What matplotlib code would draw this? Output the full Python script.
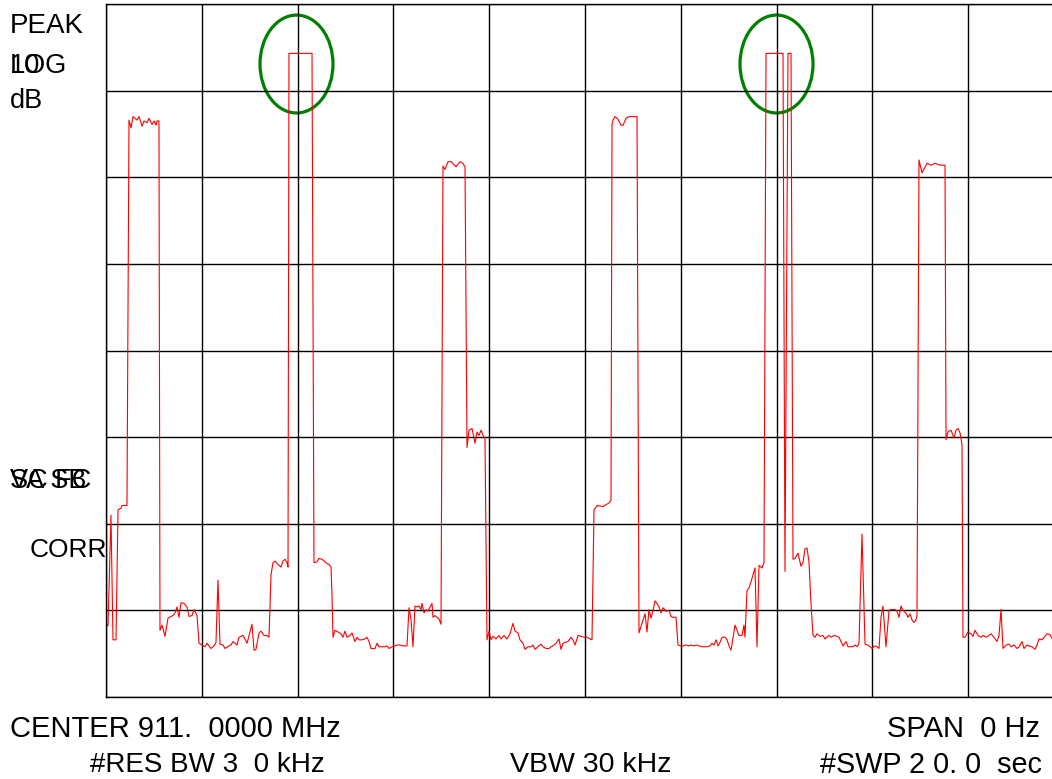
import numpy as np
import matplotlib
matplotlib.use("Agg")
import matplotlib.pyplot as plt
from matplotlib.patches import Ellipse

plt.rcParams['font.family'] = ['Liberation Sans', 'DejaVu Sans']

# zero-span sweep, 20 s across 10 divisions, 10 dB/div, 8 divisions
sweep_time = [
    0.000, 0.042, 0.104, 0.146, 0.209, 0.251, 0.313, 0.334, 0.438, 0.480,
    0.522, 0.564, 0.647, 0.689, 0.752, 0.793, 0.856, 0.898, 0.960, 1.002,
    1.044, 1.065, 1.106, 1.127, 1.169, 1.190, 1.232, 1.294, 1.357, 1.399,
    1.441, 1.482, 1.524, 1.566, 1.628, 1.691, 1.733, 1.795, 1.837, 1.900,
    1.942, 2.004, 2.067, 2.109, 2.150, 2.192, 2.255, 2.296, 2.338, 2.380,
    2.443, 2.484, 2.568, 2.610, 2.651, 2.735, 2.777, 2.860, 2.902, 2.944,
    3.006, 3.048, 3.090, 3.132, 3.194, 3.236, 3.299, 3.361, 3.403, 3.445,
    3.486, 3.528, 3.591, 3.653, 3.695, 3.737, 3.779, 3.800, 3.820, 4.301,
    4.342, 4.405, 4.447, 4.509, 4.551, 4.593, 4.656, 4.697, 4.718, 4.739,
    4.781, 4.843, 4.906, 4.948, 4.990, 5.031, 5.094, 5.136, 5.198, 5.240,
    5.282, 5.344, 5.407, 5.449, 5.491, 5.532, 5.616, 5.658, 5.699, 5.762,
    5.825, 5.866, 5.908, 5.971, 6.033, 6.075, 6.138, 6.200, 6.284, 6.326,
    6.367, 6.409, 6.451, 6.493, 6.534, 6.576, 6.597, 6.639, 6.681, 6.722,
    6.764, 6.806, 6.827, 6.868, 6.910, 6.952, 6.994, 7.035, 7.077, 7.140,
    7.203, 7.307, 7.390, 7.453, 7.495, 7.537, 7.578, 7.641, 7.704, 7.745,
    7.787, 7.829, 7.871, 7.912, 7.954, 7.996, 8.038, 8.079, 8.142, 8.205,
    8.246, 8.309, 8.372, 8.434, 8.497, 8.539, 8.601, 8.643, 8.706, 8.747,
    8.810, 8.873, 8.914, 8.956, 9.019, 9.081, 9.123, 9.186, 9.248, 9.290,
    9.353, 9.395, 9.457, 9.499, 9.541, 9.582, 9.645, 9.708, 9.749, 9.791,
    9.854, 9.916, 9.979, 10.042, 10.104, 10.146, 10.188, 10.251, 10.376, 10.501,
    10.543, 10.564, 10.585, 10.626, 10.689, 10.752, 10.793, 10.856, 10.919, 11.023,
    11.086, 11.127, 11.190, 11.253, 11.294, 11.336, 11.378, 11.420, 11.461, 11.503,
    11.545, 11.587, 11.628, 11.691, 11.754, 11.795, 11.837, 11.900, 11.942, 12.004,
    12.046, 12.109, 12.171, 12.213, 12.276, 12.338, 12.380, 12.443, 12.505, 12.547,
    12.610, 12.651, 12.693, 12.735, 12.777, 12.818, 12.860, 12.923, 12.965, 13.006,
    13.048, 13.090, 13.132, 13.173, 13.215, 13.278, 13.319, 13.340, 13.382, 13.424,
    13.466, 13.507, 13.549, 13.591, 13.633, 13.695, 13.737, 13.779, 14.134, 14.175,
    14.238, 14.301, 14.342, 14.384, 14.447, 14.509, 14.551, 14.593, 14.635, 14.676,
    14.718, 14.760, 14.802, 14.843, 14.906, 14.969, 15.010, 15.052, 15.094, 15.136,
    15.198, 15.261, 15.303, 15.344, 15.386, 15.449, 15.491, 15.553, 15.595, 15.637,
    15.678, 15.720, 15.783, 15.846, 15.908, 15.950, 15.992, 16.054, 16.096, 16.138,
    16.180, 16.221, 16.284, 16.347, 16.388, 16.472, 16.514, 16.555, 16.597, 16.639,
    16.701, 16.743, 16.785, 16.827, 16.868, 16.910, 16.931, 16.973, 17.035, 17.140,
    17.223, 17.307, 17.411, 17.516, 17.537, 17.578, 17.641, 17.704, 17.745, 17.787,
    17.829, 17.871, 17.891, 17.933, 17.996, 18.058, 18.100, 18.142, 18.205, 18.267,
    18.309, 18.372, 18.434, 18.476, 18.539, 18.601, 18.643, 18.685, 18.727, 18.789,
    18.852, 18.894, 18.956, 19.019, 19.061, 19.123, 19.165, 19.228, 19.269, 19.332,
    19.395, 19.436, 19.478, 19.541, 19.603, 19.645, 19.708, 19.749,
]
level_db = [
    -71.6, -71.8, -59.0, -73.4, -73.4, -58.4, -58.2, -57.9, -57.9, -13.4,
    -14.3, -13.0, -13.4, -13.0, -14.1, -13.5, -13.7, -13.2, -13.9, -13.5,
    -14.0, -13.5, -13.5, -72.3, -71.7, -72.1, -73.0, -70.9, -70.7, -70.6,
    -70.3, -69.6, -70.8, -69.1, -69.2, -69.6, -70.7, -70.6, -69.9, -70.6,
    -73.8, -74.0, -74.2, -73.8, -74.1, -74.4, -74.1, -73.7, -66.5, -73.9,
    -74.0, -74.4, -74.1, -74.0, -73.6, -74.0, -73.1, -72.9, -73.3, -73.8,
    -72.5, -71.6, -74.6, -74.5, -72.6, -72.4, -72.9, -72.9, -73.1, -65.9,
    -64.5, -64.3, -64.7, -65.0, -64.3, -64.1, -64.5, -65.0, -5.7, -5.7,
    -64.5, -64.4, -64.0, -64.1, -64.3, -64.5, -64.7, -65.0, -68.2, -73.1,
    -72.3, -72.5, -72.7, -73.1, -72.4, -73.1, -72.9, -72.6, -73.6, -73.1,
    -73.4, -73.4, -73.3, -73.1, -73.6, -74.4, -74.4, -73.8, -74.2, -74.2,
    -74.2, -74.1, -74.4, -74.2, -74.1, -74.0, -74.0, -74.1, -74.1, -69.7,
    -71.0, -74.2, -69.5, -69.6, -69.5, -69.9, -69.2, -70.3, -69.9, -70.1,
    -69.6, -69.2, -70.8, -70.6, -70.8, -71.0, -71.6, -18.7, -19.1, -18.2,
    -18.2, -18.8, -18.2, -18.4, -18.8, -51.2, -49.2, -49.0, -50.7, -49.4,
    -49.8, -49.2, -49.8, -50.1, -73.4, -72.4, -73.4, -73.0, -73.3, -72.9,
    -73.3, -72.9, -73.3, -72.7, -71.5, -72.4, -72.6, -73.4, -73.8, -74.5,
    -74.2, -74.2, -74.0, -74.5, -74.2, -73.9, -74.2, -74.4, -74.4, -74.2,
    -74.0, -73.8, -73.3, -74.5, -73.8, -73.7, -73.6, -73.1, -73.4, -74.0,
    -72.9, -73.0, -73.1, -73.1, -73.3, -73.4, -58.4, -57.9, -58.0, -57.6,
    -57.3, -13.9, -13.4, -13.0, -13.3, -14.0, -14.0, -13.2, -13.0, -13.0,
    -13.0, -72.6, -71.5, -70.4, -72.5, -69.9, -70.9, -70.0, -68.9, -69.2,
    -69.6, -70.3, -69.7, -70.1, -70.0, -70.7, -70.8, -70.8, -74.0, -74.1,
    -74.1, -74.0, -74.1, -74.0, -74.1, -74.0, -74.1, -74.2, -74.2, -74.2,
    -74.1, -73.8, -74.0, -73.4, -74.1, -73.7, -73.1, -73.1, -73.4, -74.1,
    -74.6, -73.2, -71.7, -72.3, -72.9, -72.9, -71.7, -73.1, -67.7, -67.4,
    -66.7, -65.9, -65.1, -74.2, -64.8, -65.1, -64.5, -5.7, -5.7, -65.5,
    -5.7, -5.7, -64.1, -64.0, -63.4, -64.9, -64.5, -62.9, -62.8, -64.4,
    -69.2, -72.9, -73.1, -72.7, -73.0, -72.9, -73.3, -73.1, -72.9, -73.1,
    -72.9, -73.0, -73.1, -73.6, -74.1, -73.6, -74.2, -74.2, -74.2, -74.0,
    -74.2, -73.8, -61.2, -73.9, -74.0, -74.2, -74.4, -74.1, -74.2, -74.4,
    -70.8, -69.5, -74.2, -70.0, -69.9, -69.9, -70.1, -70.8, -69.5, -70.0,
    -70.3, -70.8, -70.4, -71.1, -71.4, -71.1, -70.6, -18.0, -19.5, -18.4,
    -18.6, -18.4, -18.6, -18.6, -50.3, -49.4, -49.2, -50.1, -49.2, -49.0,
    -49.5, -50.9, -73.1, -73.1, -72.5, -72.7, -73.0, -72.3, -72.9, -73.1,
    -72.9, -73.1, -72.9, -72.7, -73.1, -73.6, -72.9, -69.9, -74.4, -74.0,
    -73.9, -74.2, -74.0, -74.4, -74.2, -73.6, -74.4, -74.0, -74.1, -74.2,
    -74.5, -74.0, -73.3, -73.4, -73.0, -72.7, -72.8, -73.2,
]

# circled bursts (centre time, centre level)
marks_t = [3.977, 13.998]
marks_db = [-6.93, -6.93]

W, H = 1052, 779
fig = plt.figure(figsize=(W / 100, H / 100), dpi=100)
# grid is 10 div wide, right edge runs off the picture
ax = fig.add_axes([106 / W, 82 / H, 958 / W, 693 / H])
ax.set_xlim(0, 20)
ax.set_ylim(-80, 0)
ax.set_xticks(np.arange(0, 21, 2))
ax.set_yticks(np.arange(-80, 1, 10))
ax.grid(True, color='black', linewidth=1.0)
ax.tick_params(length=0, labelbottom=False, labelleft=False)
for s in ax.spines.values():
    s.set_color('black')
    s.set_linewidth(1.0)

ax.plot(sweep_time, level_db, color='red', linewidth=0.8)

for t, d in zip(marks_t, marks_db):
    ax.add_patch(Ellipse((t, d), 1.524, 11.3, fill=False,
                         edgecolor='green', linewidth=2.3, clip_on=False))

def px_text(x, y, s, ha='left', fs=19.5):
    fig.text(x / W, 1 - y / H, s, ha=ha, va='center', fontsize=fs, color='black')

# annotations sit on top of each other on the analyser screen
px_text(10, 26, "PEAK", fs=20)
px_text(10, 66, "LOG")
px_text(10, 66, "10")
px_text(10, 101, "dB")
px_text(10, 481, "VA SB")
px_text(10, 481, "SC FC")
px_text(30, 550, "CORR", fs=19)

px_text(10, 729, "CENTER 911.  0000 MHz", fs=21)
px_text(1040, 729, "SPAN  0 Hz", ha='right', fs=21)
px_text(90, 765, "#RES BW 3  0 kHz", fs=20)
px_text(510, 765, "VBW 30 kHz", fs=20.5)
px_text(820, 765, "#SWP 2 0. 0  sec", fs=20.7)

fig.savefig("out.png", dpi=100)
